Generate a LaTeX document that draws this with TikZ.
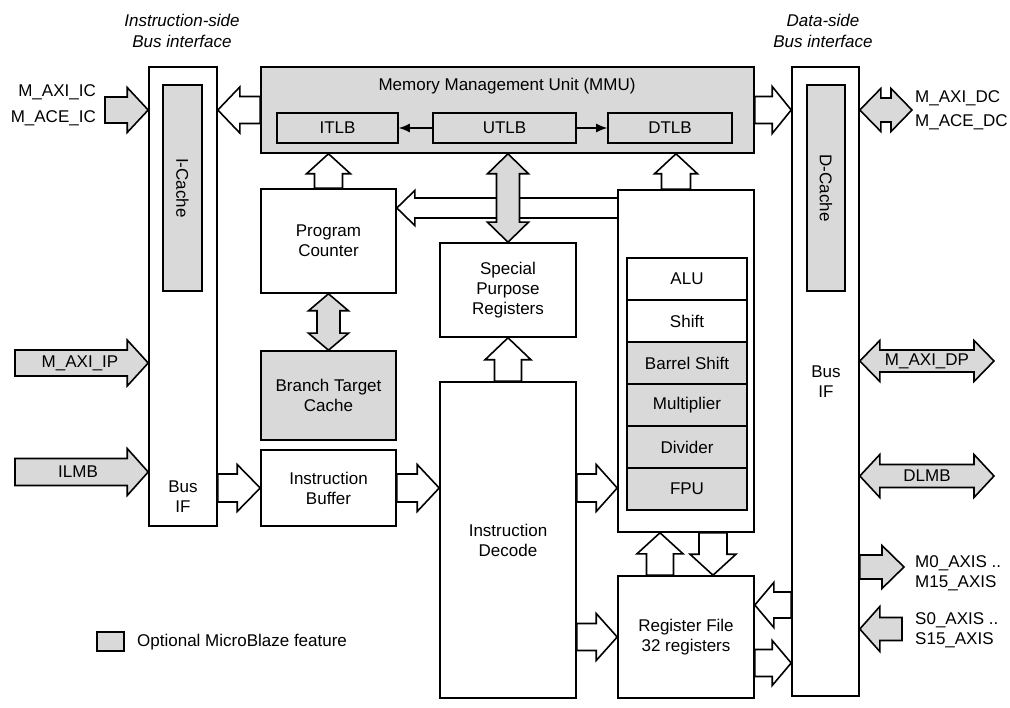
\documentclass[tikz,border=0pt]{standalone}
\usepackage{fontspec}
\setmainfont{Liberation Sans}
\usetikzlibrary{calc,arrows.meta}
\definecolor{optgray}{RGB}{217,217,217}
\tikzset{
  sw/.store in=\fatsw, hw/.store in=\fathw, hl/.store in=\fathl,
  sw=13.5pt, hw=23pt, hl=21pt
}
% single block arrow from #2 (base) to #3 (tip)
\newcommand\fatarrow[3][]{%
  \draw[fat,#1] let \p1=#2, \p2=#3, \n1={atan2(\y2-\y1,\x2-\x1)}, \n2={veclen(\x2-\x1,\y2-\y1)} in
    ($(\p1)+(\n1+90:\fatsw)$)
    -- ($(\p1)+(\n1:{\n2-\fathl})+(\n1+90:\fatsw)$)
    -- ($(\p1)+(\n1:{\n2-\fathl})+(\n1+90:\fathw)$)
    -- (\p2)
    -- ($(\p1)+(\n1:{\n2-\fathl})+(\n1-90:\fathw)$)
    -- ($(\p1)+(\n1:{\n2-\fathl})+(\n1-90:\fatsw)$)
    -- ($(\p1)+(\n1-90:\fatsw)$) -- cycle;
}
% double block arrow between tips #2 and #3
\newcommand\fatdarrow[3][]{%
  \draw[fat,#1] let \p1=#2, \p2=#3, \n1={atan2(\y2-\y1,\x2-\x1)}, \n2={veclen(\x2-\x1,\y2-\y1)} in
    ($(\p1)+(\n1:\fathl)+(\n1+90:\fatsw)$)
    -- ($(\p1)+(\n1:{\n2-\fathl})+(\n1+90:\fatsw)$)
    -- ($(\p1)+(\n1:{\n2-\fathl})+(\n1+90:\fathw)$)
    -- (\p2)
    -- ($(\p1)+(\n1:{\n2-\fathl})+(\n1-90:\fathw)$)
    -- ($(\p1)+(\n1:{\n2-\fathl})+(\n1-90:\fatsw)$)
    -- ($(\p1)+(\n1:\fathl)+(\n1-90:\fatsw)$)
    -- ($(\p1)+(\n1:\fathl)+(\n1-90:\fathw)$)
    -- (\p1)
    -- ($(\p1)+(\n1:\fathl)+(\n1+90:\fathw)$) -- cycle;
}
\begin{document}
\begin{tikzpicture}[x=1pt,y=-1pt,
  every node/.style={font=\fontsize{17}{20}\selectfont},
  box/.style={draw, line width=1.6pt, fill=white, inner sep=0pt, align=center},
  gbox/.style={box, fill=optgray},
  fat/.style={draw, line width=1.6pt, fill=white, line join=miter},
  fatg/.style={fill=optgray},
  lbl/.style={inner sep=0pt, align=center},
  thinarr/.style={line width=1.2pt, -{Latex[length=11pt,width=9pt]}}]
\useasboundingbox (0,0) rectangle (1010,708);

% ---- headings
\node[lbl, font=\fontsize{17}{21}\selectfont\itshape] (ilab) at (182,30.5) {Instruction-side\\Bus interface};
\node[lbl, font=\fontsize{17}{21}\selectfont\itshape] (dlab) at (823,30.5) {Data-side\\Bus interface};

% ---- instruction-side bus interface
\node[box, minimum width=68, minimum height=459] (busL) at (183,296.5) {};
\node[gbox, minimum width=39, minimum height=206] (icache) at (182.5,188) {};
\node[lbl, rotate=-90] (icachet) at (icache.center) {I-Cache};
\node[lbl] (busLt) at (183,497) {Bus\\IF};

% ---- data-side bus interface
\node[box, minimum width=67, minimum height=629] (busR) at (825.5,381.5) {};
\node[gbox, minimum width=38, minimum height=206] (dcache) at (826,188) {};
\node[lbl, rotate=-90] (dcachet) at (dcache.center) {D-Cache};
\node[lbl] (busRt) at (826,382) {Bus\\IF};

% ---- MMU
\node[gbox, minimum width=493, minimum height=86] (mmu) at (507.5,110) {};
\node[lbl] (mmut) at (507,86) {Memory Management Unit (MMU)};
\node[gbox, minimum width=121, minimum height=30] (itlb) at (337.5,128) {ITLB};
\node[gbox, minimum width=143, minimum height=30] (utlb) at (504.5,128) {UTLB};
\node[gbox, minimum width=124, minimum height=30] (dtlb) at (670,128) {DTLB};
\draw[thinarr] (utlb.west) -- (itlb.east);
\draw[thinarr] (utlb.east) -- (dtlb.west);

% ---- core blocks
\node[box, minimum width=135, minimum height=104] (pc) at (328.5,241) {Program\\Counter};
\node[gbox, minimum width=135, minimum height=89] (btc) at (328.5,395.5) {Branch Target\\Cache};
\node[box, minimum width=135, minimum height=76] (ibuf) at (328.5,488) {Instruction\\Buffer};
\node[box, minimum width=136, minimum height=94] (spr) at (508,290) {Special\\Purpose\\Registers};
\node[box, minimum width=136, minimum height=316] (dec) at (508,540) {Instruction\\Decode};
\node[box, minimum width=136, minimum height=342] (exu) at (686,361) {};
\node[box, minimum width=120, minimum height=42] (alu) at (687,279) {ALU};
\node[box, minimum width=120, minimum height=42] (shift) at (687,321) {Shift};
\node[gbox, minimum width=120, minimum height=42] (barrel) at (687,363) {Barrel Shift};
\node[gbox, minimum width=120, minimum height=42] (mult) at (687,405) {Multiplier};
\node[gbox, minimum width=120, minimum height=42] (div) at (687,447) {Divider};
\node[gbox, minimum width=120, minimum height=42] (fpu) at (687,489) {FPU};
\node[box, minimum width=136, minimum height=122] (rf) at (686,637) {Register File\\32 registers};

% ---- free ends
\coordinate (icIn) at (105,110);
\coordinate (dcOut) at (912,110);
\coordinate (ipIn) at (15,363);
\coordinate (ilmbIn) at (15,472);
\coordinate (dpOut) at (994,361);
\coordinate (dlmbOut) at (994,476);
\coordinate (m0Out) at (904,567);
\coordinate (s0In) at (902,629);
\coordinate (fb) at (618,208);
\coordinate (exTop) at ($(exu.north)+(-10,0)$);

% ---- block arrows
\fatarrow[fatg, sw=13pt, hw=22.5pt]{(icIn)}{(icIn -| busL.west)}
\fatarrow[hl=22pt]{(mmu.west)}{(mmu.west -| busL.east)}
\fatarrow[hw=23.5pt, hl=19pt]{(mmu.east)}{(mmu.east -| busR.west)}
\fatdarrow[fatg, sw=12pt, hw=21.5pt, hl=21pt]{(dcOut -| busR.east)}{(dcOut)}
\fatarrow[sw=14pt, hw=22pt, hl=20pt]{(pc.north)}{(pc.north |- mmu.south)}
\fatarrow[sw=14.5pt, hw=21.5pt, hl=20pt]{(exTop)}{(exTop |- mmu.south)}
\fatarrow[sw=10pt, hw=17.5pt, hl=18pt]{(fb)}{(fb -| pc.east)}
\fatdarrow[fatg, sw=11.5pt, hw=20.5pt, hl=20pt]{(spr.north |- mmu.south)}{(spr.north)}
\fatdarrow[fatg, sw=11.5pt, hw=20pt, hl=17pt]{(pc.south)}{(btc.north)}
\fatarrow[hl=22pt]{(dec.north)}{(spr.south)}
\fatarrow[fatg, sw=13pt]{(ipIn)}{(ipIn -| busL.west)}
\fatarrow[fatg, hw=23.5pt]{(ilmbIn)}{(ilmbIn -| busL.west)}
\fatarrow[sw=14pt, hw=23.5pt, hl=23pt]{(ibuf.west -| busL.east)}{(ibuf.west)}
\fatarrow[sw=14pt, hw=23.5pt, hl=22pt]{(ibuf.east)}{(ibuf.east -| dec.west)}
\fatarrow[sw=14pt, hw=23.5pt]{(ibuf.east -| dec.east)}{(ibuf.east -| exu.west)}
\fatarrow[hw=23.5pt]{(rf.west -| dec.east)}{(rf.west)}
\fatarrow{($(rf.north)+(-26,0)$)}{($(exu.south)+(-26,0)$)}
\fatarrow[sw=14pt]{($(exu.south)+(27,0)$)}{($(rf.north)+(27,0)$)}
\fatarrow[sw=13pt, hw=22.5pt, hl=19pt]{($(rf.east -| busR.west)+(0,-32)$)}{($(rf.east)+(0,-32)$)}
\fatarrow[hw=22.5pt, hl=19pt]{($(rf.east)+(0,26)$)}{($(rf.east -| busR.west)+(0,26)$)}
\fatdarrow[fatg, sw=11pt, hw=20.5pt, hl=20pt]{(dpOut -| busR.east)}{(dpOut)}
\fatdarrow[fatg, sw=11.5pt, hw=21.5pt, hl=20pt]{(dlmbOut -| busR.east)}{(dlmbOut)}
\fatarrow[fatg, sw=12pt, hw=21.5pt, hl=22pt]{(m0Out -| busR.east)}{(m0Out)}
\fatarrow[fatg, sw=11.5pt, hw=22.5pt, hl=20pt]{(s0In)}{(s0In -| busR.east)}

% ---- arrow labels
\node[lbl, anchor=east] (icA) at (96,92) {M\_AXI\_IC};
\node[lbl, anchor=east] (icB) at (96,118) {M\_ACE\_IC};
\node[lbl, anchor=west] (dcA) at (915,98) {M\_AXI\_DC};
\node[lbl, anchor=west] (dcB) at (915,122) {M\_ACE\_DC};
\node[lbl] (ipt) at (80,363) {M\_AXI\_IP};
\node[lbl] (ilmbt) at (78,472) {ILMB};
\node[lbl] (dpt) at (927,361) {M\_AXI\_DP};
\node[lbl] (dlmbt) at (927,476) {DLMB};
\node[lbl, anchor=west, align=left] (m0t) at (915,573) {M0\_AXIS ..\\M15\_AXIS};
\node[lbl, anchor=west, align=left] (s0t) at (915,630) {S0\_AXIS ..\\S15\_AXIS};

% ---- legend
\node[gbox, minimum width=27, minimum height=19] (legbox) at (110.5,641.5) {};
\node[lbl, anchor=west] (legt) at (137,642) {Optional MicroBlaze feature};
\end{tikzpicture}
\end{document}
